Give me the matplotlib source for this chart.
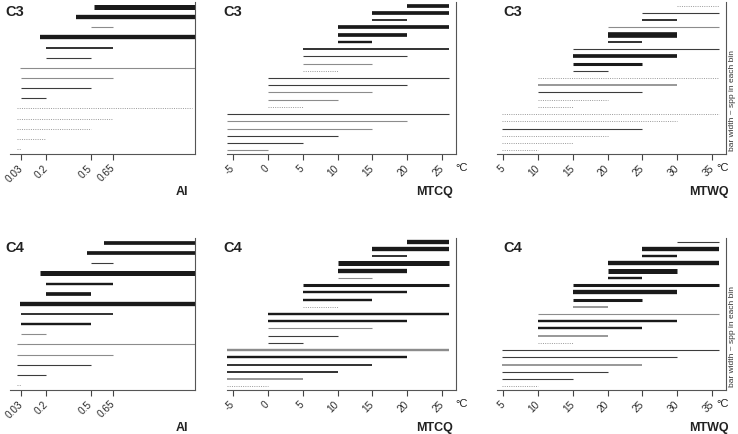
import numpy as np
import matplotlib.pyplot as plt

plt.rcParams['font.family'] = ['Liberation Sans', 'DejaVu Sans']

# rows are listed bottom -> top; n = spp in bin (0 = empty, drawn dotted)
ai_ticks = [0.03, 0.2, 0.5, 0.65]
ai_labels = ['0.03', '0.2', '0.5', '0.65']

c3_ai_lo = [0.0, 0.0, 0.0, 0.0, 0.0, 0.03, 0.03, 0.03, 0.025, 0.2, 0.2, 0.16, 0.5, 0.40, 0.52]
c3_ai_hi = [0.03, 0.2, 0.5, 0.65, 1.18, 0.2, 0.5, 0.65, 1.2, 0.5, 0.65, 1.2, 0.65, 1.2, 1.2]
c3_ai_n = [0, 0, 0, 0, 0, 1, 1, 1, 1, 1, 2, 6, 1, 6, 7]
c3_ai_grey = [0, 0, 0, 0, 0, 0, 0, 1, 1, 0, 0, 0, 1, 0, 0]

c4_ai_lo = [0.0, 0.0, 0.0, 0.0, 0.0, 0.03, 0.03, 0.03, 0.02, 0.2, 0.2, 0.16, 0.5, 0.475, 0.585]
c4_ai_hi = [0.03, 0.2, 0.5, 0.65, 1.2, 0.2, 0.5, 0.65, 1.2, 0.5, 0.65, 1.2, 0.65, 1.2, 1.2]
c4_ai_n = [0, 1, 1, 1, 1, 1, 3, 2, 6, 5, 3, 7, 1, 5, 5]
c4_ai_grey = [0, 0, 0, 1, 1, 1, 0, 0, 0, 0, 0, 0, 0, 0, 0]

mtcq_ticks = [-5, 0, 5, 10, 15, 20, 25]
mtcq_labels = ['-5', '0', '5', '10', '15', '20', '25']
mtcq_lo = [-5.9, -5.9, -5.9, -5.9, -5.9, -5.9, 0, 0, 0, 0, 0,
           5, 5, 5, 5, 10, 10, 10, 15, 15, 20]
mtcq_hi = [0, 5, 10, 15, 20, 26, 5, 10, 15, 20, 26,
           10, 15, 20, 26, 15, 20, 26, 20, 26, 26]
c3_mtcq_n = [1, 1, 1, 1, 1, 1, 0, 1, 1, 1, 1, 0, 1, 1, 2, 3, 5, 5, 2, 5, 5]
c3_mtcq_grey = [1, 0, 0, 1, 1, 0, 0, 1, 1, 0, 0, 0, 1, 0, 0, 0, 0, 0, 0, 0, 0]
c4_mtcq_n = [0, 2, 2, 2, 3, 3, 1, 1, 1, 3, 3, 0, 3, 3, 4, 1, 6, 7, 2, 6, 6]
c4_mtcq_grey = [0, 1, 0, 0, 0, 1, 0, 0, 1, 0, 0, 0, 0, 0, 0, 1, 0, 0, 0, 0, 0]

mtwq_ticks = [5, 10, 15, 20, 25, 30, 35]
mtwq_labels = ['5', '10', '15', '20', '25', '30', '35']
mtwq_lo = [4.9, 4.9, 4.9, 4.9, 4.9, 4.9, 10, 10, 10, 10, 10,
           15, 15, 15, 15, 20, 20, 20, 25, 25, 30]
mtwq_hi = [10, 15, 20, 25, 30, 36, 15, 20, 25, 30, 36,
           20, 25, 30, 36, 25, 30, 36, 30, 36, 36]
c3_mtwq_n = [0, 0, 0, 1, 0, 0, 0, 0, 1, 2, 0, 1, 4, 5, 1, 2, 8, 1, 2, 1, 0]
c3_mtwq_grey = [0, 0, 0, 0, 0, 0, 0, 0, 0, 1, 0, 0, 0, 0, 0, 0, 0, 1, 0, 0, 0]
c4_mtwq_n = [0, 1, 1, 2, 1, 1, 0, 2, 3, 3, 1, 2, 4, 6, 4, 3, 7, 6, 3, 6, 1]
c4_mtwq_grey = [0, 0, 0, 1, 0, 0, 0, 1, 0, 0, 1, 1, 0, 0, 0, 0, 0, 0, 0, 0, 0]

W, H = 738, 434
fig = plt.figure(figsize=(W / 100, H / 100), dpi=100)


def fx(x):
    return x / W


def fy(y):
    return 1 - y / H


def panel(left, top, width, height, xlim, lo, hi, n, grey, ticks, labels):
    ax = fig.add_axes([fx(left), fy(top + height), width / W, height / H])
    y = np.arange(len(lo))
    for yi, a, b, k, g in zip(y, lo, hi, n, grey):
        if k == 0:
            ax.plot([a, b], [yi, yi], color='#9a9a9a', lw=0.7,
                    linestyle=(0, (1, 1.3)), solid_capstyle='butt')
        else:
            col = '#8c8c8c' if g else ('#1a1a1a' if k >= 2 else '#3c3c3c')
            ax.plot([a, b], [yi, yi], color=col, lw=(0.45 + 0.65 * k) * 0.72,
                    solid_capstyle='butt')
    ax.set_xlim(xlim)
    ax.set_ylim(-0.5, len(lo) - 0.5)
    for s in ['left', 'top']:
        ax.spines[s].set_visible(False)
    for s in ['bottom', 'right']:
        ax.spines[s].set_color('#555555')
        ax.spines[s].set_linewidth(0.8)
    ax.set_yticks([])
    ax.set_xticks(ticks)
    ax.set_xticklabels(labels)
    ax.tick_params(axis='x', length=4, width=0.8, color='#444444', pad=5,
                   labelsize=7.3, labelcolor='#2a2a2a')
    plt.setp(ax.get_xticklabels(), rotation=45, ha='right', va='center',
             rotation_mode='anchor')
    return ax


rows = [2, 238]
ph = 152

panel(10, rows[0], 185, ph, (-0.044, 1.2), c3_ai_lo, c3_ai_hi, c3_ai_n, c3_ai_grey, ai_ticks, ai_labels)
panel(227, rows[0], 229, ph, (-5.86, 27.0), mtcq_lo, mtcq_hi, c3_mtcq_n, c3_mtcq_grey, mtcq_ticks, mtcq_labels)
panel(497, rows[0], 229, ph, (4.14, 37.0), mtwq_lo, mtwq_hi, c3_mtwq_n, c3_mtwq_grey, mtwq_ticks, mtwq_labels)
panel(10, rows[1], 185, ph, (-0.044, 1.2), c4_ai_lo, c4_ai_hi, c4_ai_n, c4_ai_grey, ai_ticks, ai_labels)
panel(227, rows[1], 229, ph, (-5.86, 27.0), mtcq_lo, mtcq_hi, c4_mtcq_n, c4_mtcq_grey, mtcq_ticks, mtcq_labels)
panel(497, rows[1], 229, ph, (4.14, 37.0), mtwq_lo, mtwq_hi, c4_mtwq_n, c4_mtwq_grey, mtwq_ticks, mtwq_labels)

# panel text
for top, name in zip(rows, ['C3', 'C4']):
    for x in [5, 223, 503]:
        fig.text(fx(x), fy(top + 10), name, fontsize=10.5, fontweight='bold',
                 ha='left', va='center', color='#222222')
    for x, lab in [(188, 'AI'), (453, 'MTCQ'), (729, 'MTWQ')]:
        fig.text(fx(x), fy(top + 190), lab, fontsize=9, fontweight='bold',
                 ha='right', va='center', color='#222222')
    for x in [462, 723]:
        fig.text(fx(x), fy(top + 166), '°C', fontsize=8, ha='center',
                 va='center', color='#222222')
    fig.text(fx(733), fy(top + ph - 3), 'bar width ~ spp in each bin',
             fontsize=6, rotation=90, ha='center', va='bottom', color='#333333')

fig.savefig('out.png', dpi=100)
